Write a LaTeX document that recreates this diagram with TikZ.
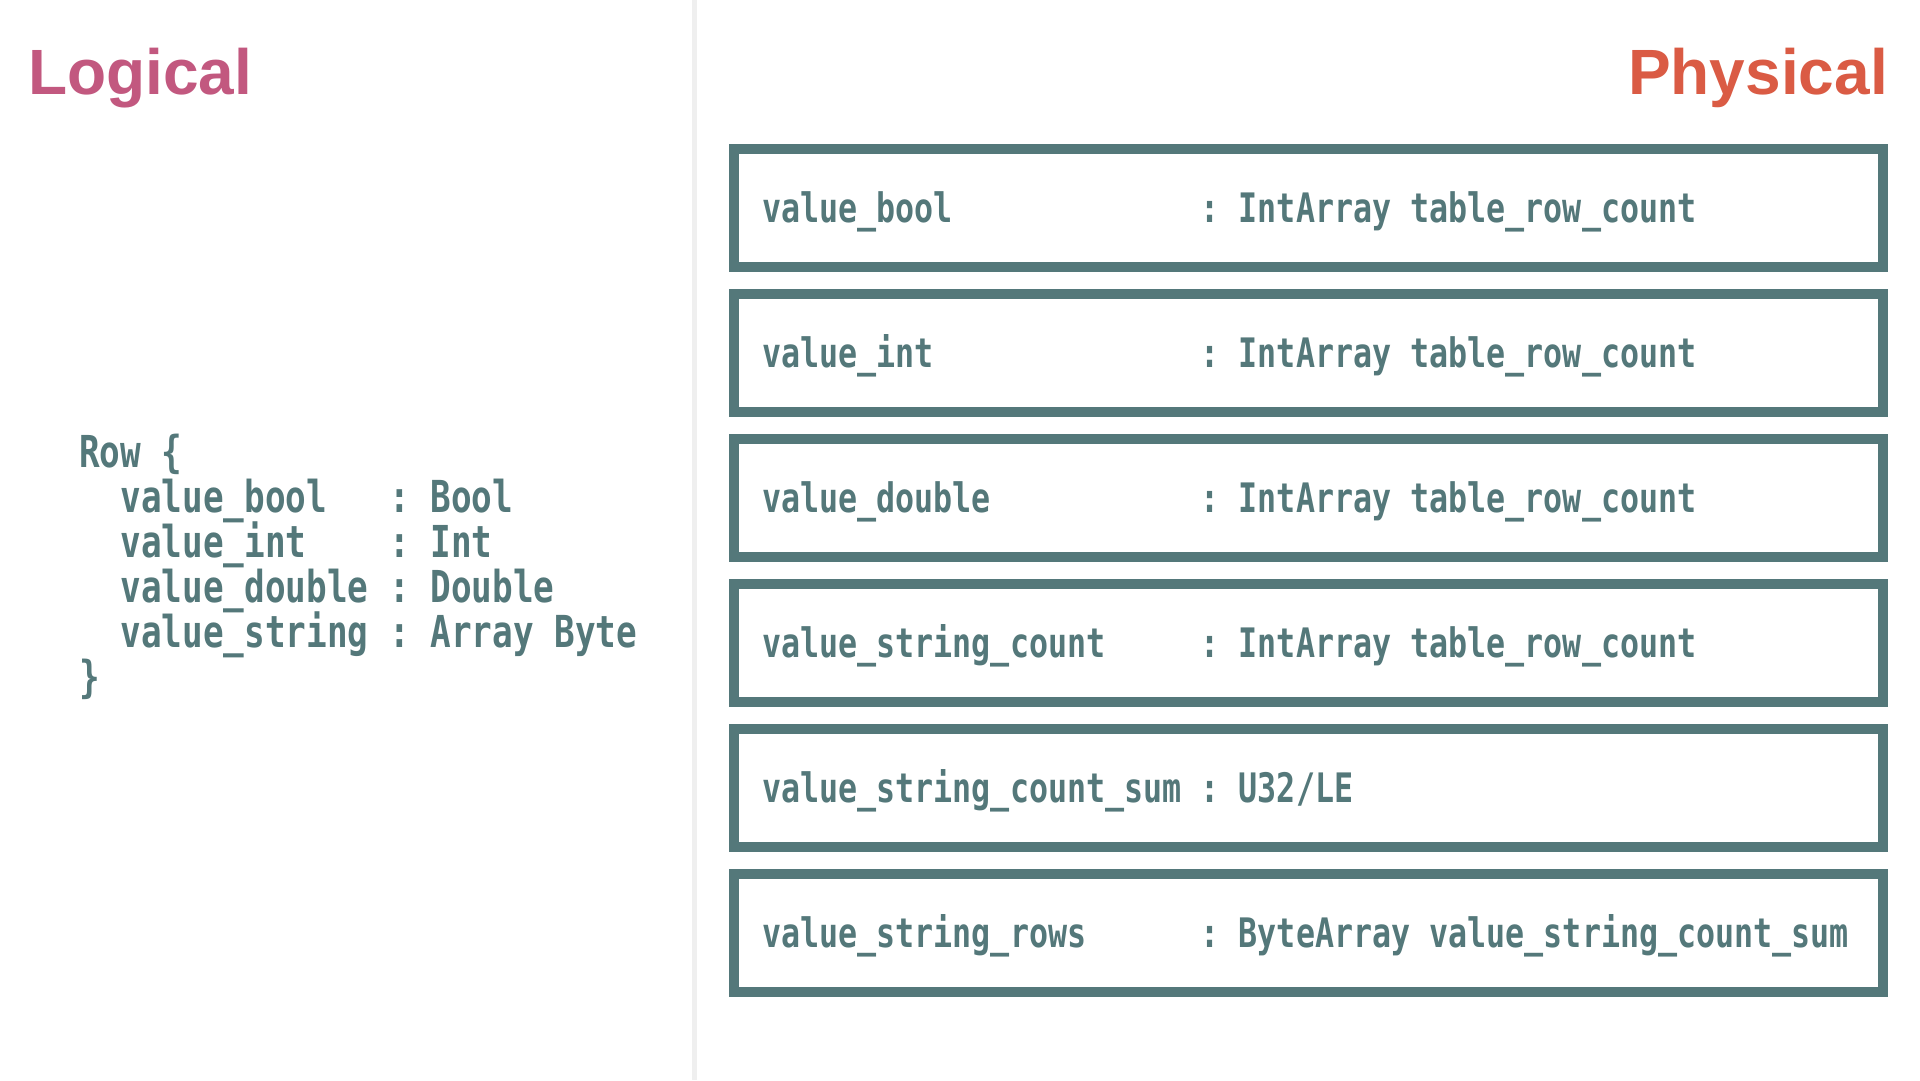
\documentclass[tikz,border=0pt]{standalone}
\usepackage{fontspec}
\setmainfont{Liberation Sans}
\newfontfamily\codefont[FakeStretch=0.78]{DejaVu Sans Mono}
\definecolor{ink}{RGB}{84,120,122}
\definecolor{logcol}{RGB}{194,88,127}
\definecolor{phycol}{RGB}{218,91,68}
\definecolor{divcol}{RGB}{239,239,239}
\tikzset{
  title/.style={inner sep=0pt, font=\bfseries\fontsize{64}{70}\selectfont},
  pbox/.style={draw=ink, line width=10pt, minimum width=1149pt, minimum height=118pt, inner sep=0pt},
  boxtext/.style={anchor=base west, inner sep=0pt, text=ink, font=\codefont\bfseries\fontsize{40.6}{48}\selectfont},
  codeline/.style={anchor=base west, inner sep=0pt, text=ink, font=\codefont\bfseries\fontsize{44}{52}\selectfont},
}
\begin{document}
\begin{tikzpicture}[x=1pt,y=-1pt]
\useasboundingbox (0,0) rectangle (1920,1080);
\fill[white] (0,0) rectangle (1920,1080);
\fill[divcol] (692,0) rectangle (697,1080);
% titles
\node[title, text=logcol, anchor=base west] (tlog) at (28,94) {Logical};
\node[title, text=phycol, anchor=base east] (tphy) at (1888,94) {Physical};
% logical code
\node[codeline] (c0) at (79,467) {Row \{};
\node[codeline] (c1) at (79,512) {~~value\_bool~~~:~Bool};
\node[codeline] (c2) at (79,557) {~~value\_int~~~~:~Int};
\node[codeline] (c3) at (79,602) {~~value\_double~:~Double};
\node[codeline] (c4) at (79,647) {~~value\_string~:~Array~Byte};
\node[codeline] (c5) at (79,692) {\}};
% physical boxes
\foreach \i/\t in {
  0/{value\_bool~~~~~~~~~~~~~:~IntArray~table\_row\_count},
  1/{value\_int~~~~~~~~~~~~~~:~IntArray~table\_row\_count},
  2/{value\_double~~~~~~~~~~~:~IntArray~table\_row\_count},
  3/{value\_string\_count~~~~~:~IntArray~table\_row\_count},
  4/{value\_string\_count\_sum~:~U32/LE},
  5/{value\_string\_rows~~~~~~:~ByteArray~value\_string\_count\_sum}} {
  \node[pbox] (b\i) at (1308.5, 208+145*\i) {};
  \node[boxtext] (t\i) at (762, 222.7+145*\i) {\t};
}
\end{tikzpicture}
\end{document}
